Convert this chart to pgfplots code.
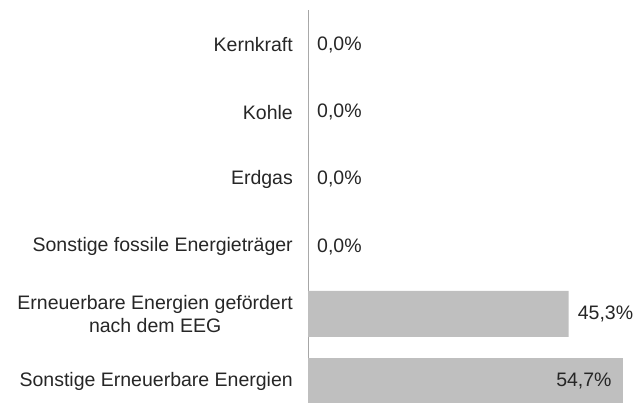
\documentclass[border=0pt]{standalone}
\usepackage{pgfplots}
\pgfplotsset{compat=1.18}
\usepackage{fontspec}
\setmainfont{Liberation Sans}
\definecolor{bargray}{HTML}{BFBFBF}
\definecolor{axgray}{HTML}{A6A6A6}
\definecolor{txt}{HTML}{262626}
\begin{document}
\begin{tikzpicture}
\begin{axis}[
  at={(308pt,0pt)}, anchor=south west,
  scale only axis, width=328pt, height=393pt,
  xmin=0, xmax=57, ymin=-0.327, ymax=5.52,
  xbar, bar width=46pt, bar shift=0pt,
  axis x line=none, axis y line*=left,
  y axis line style={axgray, line width=1pt},
  xtick=\empty, ytick={0,1,2,3,4,5}, major tick length=0pt,
  yticklabels={Sonstige Erneuerbare Energien, {Erneuerbare Energien gefördert\\nach dem EEG}, Sonstige fossile Energieträger, Erdgas, Kohle, Kernkraft},
  yticklabel style={align=center, font=\fontsize{19.5}{23.4}\selectfont, text=txt, inner sep=0pt, xshift=-15pt},
  clip=false, point meta=x,
  nodes near coords={\pgfmathprintnumber[fixed, fixed zerofill, precision=1, use comma, assume math mode=true]{\pgfplotspointmeta}\%},
]
\addplot[fill=bargray, draw=none, nodes near coords style={anchor=west, inner sep=0pt, xshift=9pt, font=\fontsize{19.5}{23.4}\selectfont, text=txt}]
  coordinates {(45.3,1) (0,2) (0,3) (0,4) (0,5)};
\addplot[fill=bargray, draw=none, nodes near coords style={anchor=east, inner sep=0pt, xshift=-11pt, font=\fontsize{19.5}{23.4}\selectfont, text=txt}]
  coordinates {(54.7,0)};
\end{axis}
\pgfresetboundingbox
\useasboundingbox (0,0) rectangle (636pt,403pt);
\end{tikzpicture}
\end{document}
